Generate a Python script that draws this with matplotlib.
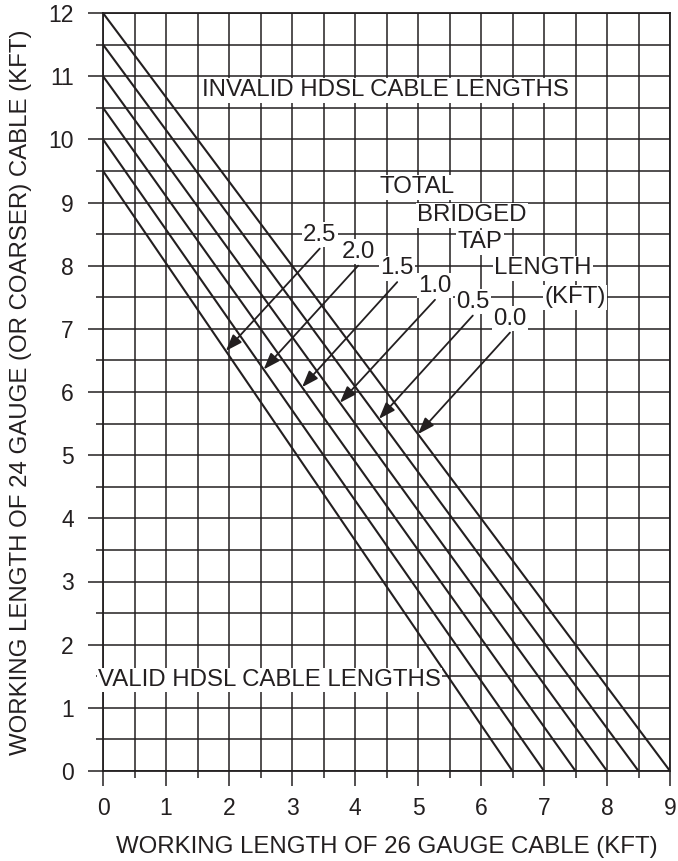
import matplotlib
matplotlib.use("Agg")
import matplotlib.pyplot as plt
import numpy as np

plt.rcParams['font.family'] = ['Liberation Sans', 'DejaVu Sans']

# Data
bridged_tap = [0.0, 0.5, 1.0, 1.5, 2.0, 2.5]          # KFT
y_intercepts = [12.0, 11.5, 11.0, 10.5, 10.0, 9.5]    # 24 gauge length at 0 kft of 26 gauge
x_intercepts = [9.0, 8.5, 8.0, 7.5, 7.0, 6.5]         # 26 gauge length at 0 kft of 24 gauge
tap_labels = ["0.0", "0.5", "1.0", "1.5", "2.0", "2.5"]
arrow_tip_x = [5.0, 4.38, 3.76, 3.16, 2.55, 1.95]
label_pos = [(6.46, 7.16), (5.87, 7.43), (5.27, 7.68), (4.67, 7.96), (4.05, 8.22), (3.44, 8.49)]
x_ticks = list(range(0, 10))
y_ticks = list(range(0, 13))

fig = plt.figure(figsize=(6.78, 8.61), dpi=100)
ax = fig.add_axes([103/678, 1-771/861, 567/678, 758/861])
ax.set_xlim(0, 9)
ax.set_ylim(0, 12)

ink = '#231f20'
fs = 17.3
# grid
ax.set_xticks(x_ticks)
ax.set_yticks(y_ticks)
ax.set_xticks(np.arange(0.5, 9, 1.0), minor=True)
ax.set_yticks(np.arange(0.5, 12, 1.0), minor=True)
ax.grid(True, which='both', color=ink, linewidth=1.1, zorder=1)
ax.set_axisbelow(True)
ax.tick_params(which='major', direction='out', length=11, width=1.1, color=ink,
               labelsize=16.5, labelcolor=ink, pad=8)
ax.tick_params(which='minor', direction='out', length=5, width=1.1, color=ink)
ax.tick_params(axis='y', which='major', pad=10)
for s in ax.spines.values():
    s.set_color(ink)
    s.set_linewidth(1.3)

# lines
for y0, x0 in zip(y_intercepts, x_intercepts):
    ax.plot([0, x0], [y0, 0], color=ink, linewidth=1.5, zorder=3, solid_capstyle='butt')

box = dict(facecolor='white', edgecolor='none', pad=1.0)

# arrows and labels
for lab, tx, (lx, ly), y0, x0 in zip(tap_labels, arrow_tip_x, label_pos, y_intercepts, x_intercepts):
    ty = y0 - y0 / x0 * tx
    ax.annotate('', xy=(tx, ty), xytext=(lx, ly - 0.22),
                arrowprops=dict(arrowstyle='-|>,head_length=1.0,head_width=0.36',
                                color=ink, lw=1.3, shrinkA=0, shrinkB=0),
                zorder=5)
    ax.text(lx, ly, lab, ha='center', va='center', fontsize=fs, color=ink,
            bbox=box, zorder=6)

ax.text(1.57, 10.78, "INVALID HDSL CABLE LENGTHS", ha='left', va='center',
        fontsize=fs, color=ink, bbox=box, zorder=6)
ax.text(-0.08, 1.44, "VALID HDSL CABLE LENGTHS", ha='left', va='center',
        fontsize=fs, color=ink, bbox=box, zorder=6, clip_on=False)

for txt, (x, y) in zip(["TOTAL", "BRIDGED", "TAP", "LENGTH", "(KFT)"],
                       [(4.98, 9.24), (5.86, 8.80), (5.98, 8.37), (6.98, 7.96), (7.49, 7.50)]):
    ax.text(x, y, txt, ha='center', va='center', fontsize=fs, color=ink,
            bbox=box, zorder=6)

ax.set_xlabel("WORKING LENGTH OF 26 GAUGE CABLE (KFT)", fontsize=fs, color=ink, labelpad=11)
ax.set_ylabel("WORKING LENGTH OF 24 GAUGE (OR COARSER) CABLE (KFT)", fontsize=fs,
              color=ink, labelpad=12)

fig.savefig("out.png", dpi=100)
